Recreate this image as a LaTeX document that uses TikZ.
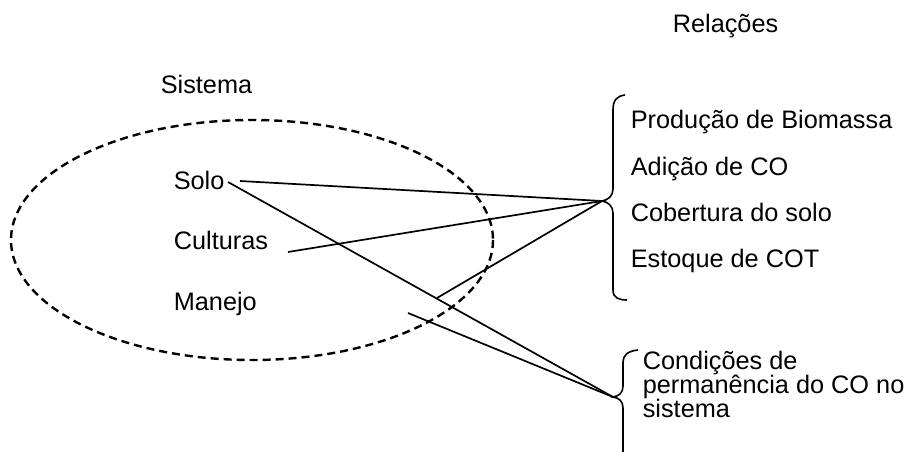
\documentclass[tikz,border=0pt]{standalone}
\usepackage{fontspec}
\setmainfont{Liberation Sans}

\begin{document}
\begin{tikzpicture}[x=1pt, y=-1pt, line width=1.6pt,
  every node/.style={inner sep=0pt, anchor=base west, font=\fontsize{25.3}{24}\selectfont},
  link/.style={line width=1.7pt},
  bracket/.style={line width=1.6pt},
  sistemabox/.style={line width=2.4pt, dash pattern=on 8pt off 5pt}]
\clip (0,0) rectangle (907,452);

% Sistema
\node (sistema) at (160,93) {Sistema};
\draw[sistemabox] (252,240) ellipse [x radius=241, y radius=120];
\node (solo) at (173,189) {Solo};
\node (culturas) at (173,249) {Culturas};
\node (manejo) at (173,310) {Manejo};

% Relações
\node (relacoes) at (672,33) {Relações};
\node (producao) at (630,128) {Produção de Biomassa};
\node (adicao) at (630,175) {Adição de CO};
\node (cobertura) at (630,221) {Cobertura do solo};
\node (estoque) at (630,267) {Estoque de COT};
\node[anchor=north west, align=left] (condicoes) at (642,350)
  {Condições de\\permanência do CO no\\sistema};

% braces
\coordinate (tipA) at (602,201);
\coordinate (tipB) at (613,397);
\draw[bracket] (625,95) .. controls (617,96) and (613,100) .. (613,110) -- (613,189)
  .. controls (613,196) and (608,200) .. (tipA)
  .. controls (608,202) and (613,206) .. (613,213) -- (613,290)
  .. controls (613,298) and (619,300) .. (627,300);
\draw[bracket] (638,350) .. controls (628,351) and (623,355) .. (623,362) -- (623,386)
  .. controls (623,393) and (619,396) .. (tipB)
  .. controls (619,398) and (623,401) .. (623,408) -- (623,470);

% links
\coordinate (soloA) at (240,181);
\coordinate (soloB) at (228,182);
\coordinate (culturasA) at (288,252);
\coordinate (manejoA) at (437,298);
\coordinate (manejoB) at (408,313);
\draw[link] (soloA) -- (tipA);
\draw[link] (culturasA) -- (tipA);
\draw[link] (manejoA) -- (tipA);
\draw[link] (soloB) -- (tipB);
\draw[link] (manejoB) -- (tipB);
\end{tikzpicture}
\end{document}
